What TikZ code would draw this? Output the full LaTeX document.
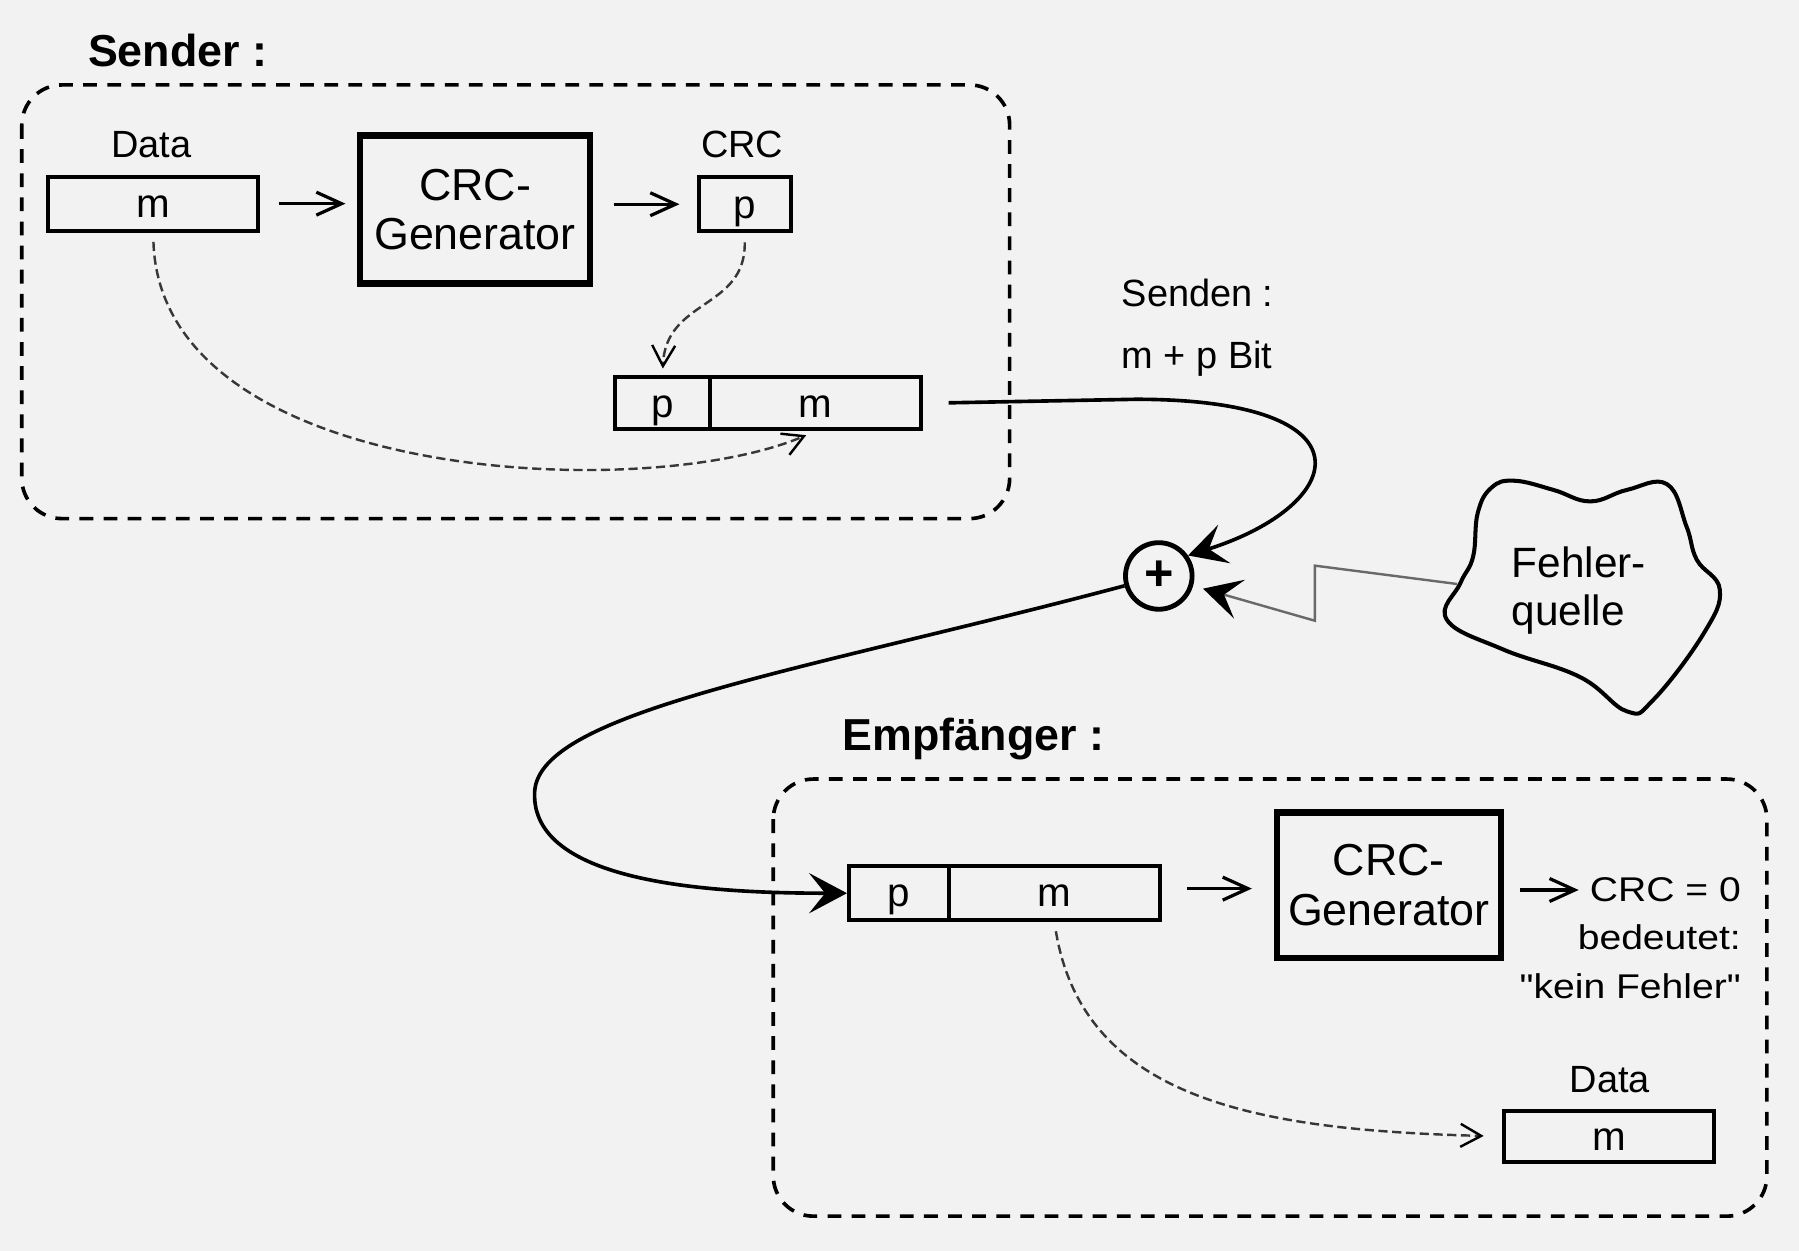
\documentclass[tikz,border=0pt]{standalone}
\usepackage{fontspec}
\setmainfont{Liberation Sans}
\newfontfamily\widefont{Liberation Sans}[FakeStretch=1.14]
\usetikzlibrary{arrows.meta}
\definecolor{bgc}{RGB}{242,242,242}
\definecolor{dgray}{RGB}{55,55,55}
\definecolor{zgray}{RGB}{105,105,105}
\tikzset{
  groupbox/.style={draw, line width=0.9pt, dash pattern=on 1.2mm off 0.9mm, rounded corners=3.5mm},
  databox/.style={draw, line width=1pt, inner sep=0pt, minimum height=0.47cm,
    font=\fontsize{10}{12}\selectfont, text height=2.4mm, text depth=0pt},
  genbox/.style={draw, line width=1.6pt, inner sep=0pt, minimum width=2cm, minimum height=1.29cm,
    align=center, font=\fontsize{11.1}{12.2}\selectfont},
  lab/.style={inner sep=0pt, font=\fontsize{9.4}{11}\selectfont},
  widelab/.style={inner sep=0pt, font=\widefont\fontsize{8.5}{10}\selectfont},
  grouptitle/.style={inner sep=0pt, font=\bfseries\fontsize{11.1}{13}\selectfont},
  arr/.style={line width=0.8pt, -{Straight Barb[length=2.2mm,width=2mm]}},
  darr/.style={line width=0.6pt, draw=dgray, dash pattern=on 0.8mm off 0.4mm,
    -{Straight Barb[length=1.8mm,width=2mm,color=black]}},
  mainarr/.style={line width=0.9pt, -{Stealth[length=3.3mm,width=3.5mm,inset=1.4mm]}},
  zigarr/.style={line width=0.6pt, draw=zgray, -{Stealth[length=3.3mm,width=3.5mm,inset=1.4mm,color=black]}}
}
\begin{document}
\begin{tikzpicture}[x=0.01cm, y=-0.01cm]
\fill[bgc] (0,0) rectangle (1568,1090);
\useasboundingbox (0,0) rectangle (1568,1090);

% group frames
\draw[groupbox] (19,74) rectangle (880,452);
\draw[groupbox] (674,679) rectangle (1540,1060);
\node[grouptitle, anchor=base west] (sendt) at (76,58) {Sender :};
\node[grouptitle, anchor=base west] (empt) at (734,654) {Empfänger :};

% sender
\node[lab, anchor=base] (dlab1) at (132,137) {Data};
\node[databox, minimum width=1.83cm] (dm) at (133.5,177.5) {m};
\node[genbox] (gen1) at (414,182.5) {CRC-\\Generator};
\node[lab, anchor=base] (crclab) at (647,137) {CRC};
\node[databox, minimum width=0.80cm] (pc) at (649,178) {p};
\node[databox, minimum width=0.83cm, minimum height=0.45cm] (pmp) at (577.5,351.5) {p};
\node[databox, minimum width=1.84cm, minimum height=0.45cm] (pmm) at (711,351.5) {m};

\draw[arr, shorten <=1.6mm, shorten >=1mm] (dm.east) -- (dm.east -| gen1.west);
\draw[arr, shorten <=1.8mm, shorten >=1.5mm] (gen1.east |- pc.west) -- (pc.west);
\draw[darr, shorten <=0.8mm, shorten >=0.6mm] (pc.south) .. controls (650,270) and (580,260) .. (pmp.north);
\draw[darr, shorten <=0.8mm, shorten >=0.9mm] (dm.south) .. controls (140,420) and (560,440) .. (pmm.south);

% channel
\node[lab, anchor=base west] (sendl) at (977,267) {Senden :};
\node[lab, anchor=base west] (bitl) at (977,321) {m + p Bit};
\node[draw, circle, line width=1.2pt, minimum size=0.58cm, inner sep=0pt,
  font=\bfseries\fontsize{12.5}{12.5}\selectfont] (xor) at (1010,502) {+};
\draw[mainarr, shorten <=2.2mm] (pmm.east) -- (990,348) .. controls (1200,348) and (1175,440) .. (xor.35);

% error source
\draw[line width=1pt] plot[smooth cycle, tension=0.7] coordinates {
  (1288,447) (1300,425) (1320,419) (1354,427) (1386,437) (1418,427) (1453,422) (1470,459)
  (1479,488) (1499,514) (1485,552) (1441,610) (1418,620) (1377,590) (1310,566)
  (1261,540) (1273,508) (1284,485)};
\node[align=left, inner sep=0pt, font=\fontsize{10.5}{11.95}\selectfont] (fq) at (1376,515) {Fehler-\\quelle};
\coordinate (cl) at (1270,509);
\coordinate (zigA) at (1146,493);
\coordinate (zigB) at (1146,541);
\draw[zigarr, shorten >=0.9mm] (cl) -- (zigA) -- (zigB) -- (xor.-16);

% receiver
\node[databox, minimum width=0.87cm] (rpmp) at (783.5,778.5) {p};
\node[databox, minimum width=1.84cm] (rpmm) at (919,778.5) {m};
\node[genbox, minimum width=1.95cm, minimum height=1.27cm] (gen2) at (1210.5,771.5) {CRC-\\Generator};
\node[widelab, anchor=base east] (crc0) at (1518,786) {CRC = 0};
\node[widelab, anchor=base east] (bed) at (1518,828) {bedeutet:};
\node[widelab, anchor=base east] (kf) at (1518,870) {"kein Fehler"};
\node[lab, anchor=base] (dlab2) at (1403,952) {Data};
\node[databox, minimum width=1.83cm, minimum height=0.45cm] (rdm) at (1402.5,990.5) {m};

\draw[mainarr] (xor.196) .. controls (700,585) and (470,620) .. (466,690) .. controls (462,770) and (620,778.5) .. (rpmp.west);
\draw[arr, shorten <=2.2mm, shorten >=1.9mm] ([yshift=0.04cm]rpmm.east) -- ([yshift=0.04cm]rpmm.east -| gen2.west);
\draw[arr, shorten <=1.4mm, shorten >=0.9mm] (gen2.east |- crc0.west) -- (crc0.west);
\draw[darr, shorten <=0.8mm, shorten >=1.6mm] (rpmm.south) .. controls (945,960) and (1100,985) .. (rdm.west);
\end{tikzpicture}
\end{document}
